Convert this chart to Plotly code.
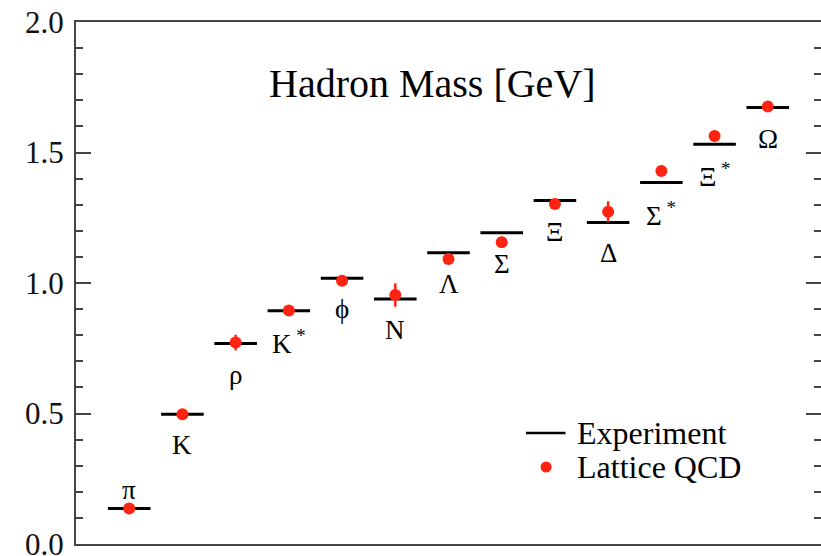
import plotly.graph_objects as go

# ---- data ----
hadrons = ["π", "K", "ρ", "K<sup> *</sup>", "ϕ", "N", "Λ", "Σ", "Ξ", "Δ",
           "Σ<sup> *</sup>", "Ξ<sup> *</sup>", "Ω"]
experiment = [0.136, 0.497, 0.768, 0.894, 1.018, 0.939, 1.116, 1.193, 1.316,
              1.232, 1.385, 1.532, 1.672]
lattice = [0.136, 0.497, 0.772, 0.895, 1.009, 0.954, 1.092, 1.156, 1.303,
           1.273, 1.429, 1.563, 1.676]
lattice_err = [0.003, 0.003, 0.03, 0.008, 0.008, 0.045, 0.02, 0.01, 0.01,
               0.04, 0.01, 0.01, 0.01]
label_above = [True] + [False] * 12

y_ticks = [0.0, 0.5, 1.0, 1.5, 2.0]

FONT = "Liberation Serif"
RED = "#ff2412"
AXC = "#444444"

idx = list(range(1, len(hadrons) + 1))
half = 0.4

ex_x, ex_y = [], []
for i, v in zip(idx, experiment):
    ex_x += [i - half, i + half, None]
    ex_y += [v, v, None]

fig = go.Figure()
fig.add_trace(go.Scatter(x=ex_x, y=ex_y, mode="lines",
                         line=dict(color="black", width=3),
                         name="Experiment", showlegend=False, hoverinfo="skip"))
fig.add_trace(go.Scatter(x=idx, y=lattice, mode="markers",
                         marker=dict(color=RED, size=12),
                         error_y=dict(type="data", array=lattice_err,
                                      color=RED, thickness=2.5, width=0),
                         name="Lattice QCD", showlegend=False))
# invisible trace for right-side ticks
fig.add_trace(go.Scatter(x=[1], y=[1], yaxis="y2", mode="markers",
                         marker=dict(opacity=0), showlegend=False,
                         hoverinfo="skip"))

for i, v, name, above in zip(idx, experiment, hadrons, label_above):
    fig.add_annotation(x=i, y=v, text=name, showarrow=False,
                       yshift=19 if above else -31,
                       font=dict(family=FONT, size=27, color="black"),
                       xanchor="center", yanchor="middle")

# title
fig.add_annotation(x=0.478, y=0.882, xref="paper", yref="paper",
                   text="Hadron Mass [GeV]", showarrow=False,
                   font=dict(family=FONT, size=40, color="black"),
                   xanchor="center", yanchor="middle")

# manual legend
fig.add_shape(type="line", xref="paper", yref="paper",
              x0=0.604, x1=0.657, y0=0.2126, y1=0.2126,
              line=dict(color="black", width=2.5))
fig.add_shape(type="circle", xref="paper", yref="paper",
              xsizemode="pixel", ysizemode="pixel",
              xanchor=0.631, yanchor=0.1475,
              x0=-5.5, x1=5.5, y0=-5.5, y1=5.5,
              fillcolor=RED, line=dict(width=0))
fig.add_annotation(x=0.67, y=0.2126, xref="paper", yref="paper",
                   text="Experiment", showarrow=False, xanchor="left",
                   yanchor="middle",
                   font=dict(family=FONT, size=32, color="black"))
fig.add_annotation(x=0.67, y=0.1475, xref="paper", yref="paper",
                   text="Lattice QCD", showarrow=False, xanchor="left",
                   yanchor="middle",
                   font=dict(family=FONT, size=32, color="black"))

fig.update_layout(
    width=821, height=556,
    margin=dict(l=76, r=0, t=22, b=12, autoexpand=False),
    paper_bgcolor="white", plot_bgcolor="white",
    showlegend=False,
    xaxis=dict(range=[0, 14], showgrid=False, zeroline=False,
               showticklabels=False, ticks="", showline=True,
               linecolor=AXC, linewidth=2, mirror=True, automargin=False),
    yaxis=dict(range=[0, 2.0], tickvals=y_ticks, tickformat=".1f",
               ticks="inside", ticklen=15, tickwidth=1.5, tickcolor=AXC,
               minor=dict(dtick=0.1, ticks="inside", ticklen=7,
                          tickwidth=1.5, tickcolor=AXC),
               showgrid=False, zeroline=False, showline=True,
               linecolor=AXC, linewidth=2, ticklabeloverflow="allow",
               ticklabelstandoff=4, automargin=False,
               tickfont=dict(family=FONT, size=31, color="#111111")),
    yaxis2=dict(range=[0, 2.0], overlaying="y", side="right",
                tickvals=y_ticks, showticklabels=False,
                ticks="inside", ticklen=15, tickwidth=1.5, tickcolor=AXC,
                minor=dict(dtick=0.1, ticks="inside", ticklen=7,
                           tickwidth=1.5, tickcolor=AXC),
                showgrid=False, zeroline=False, showline=False,
                automargin=False),
)

fig.write_html("out.html")
